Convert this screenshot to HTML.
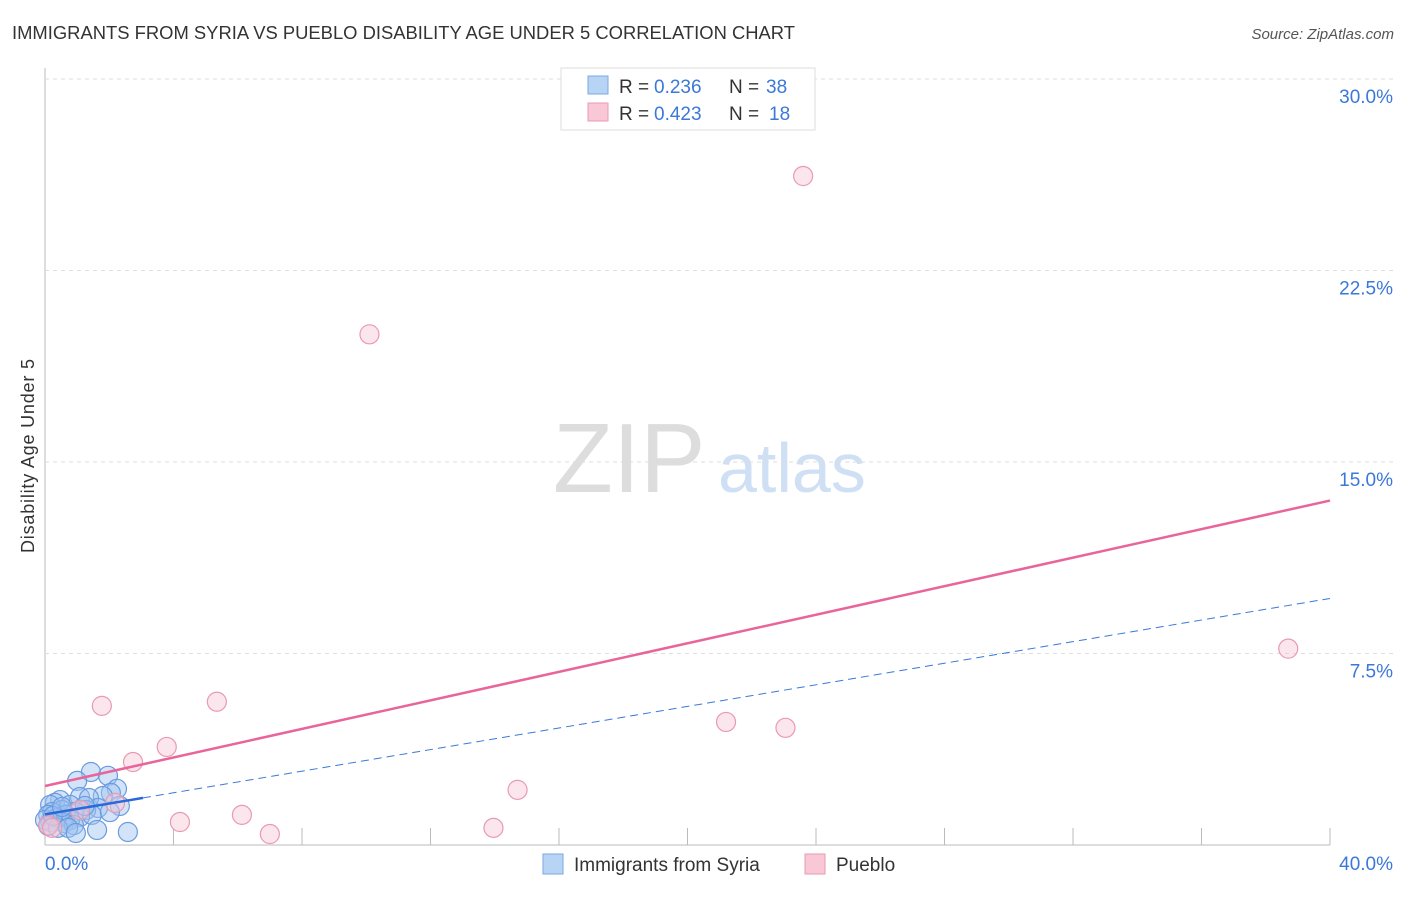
<!DOCTYPE html>
<html><head><meta charset="utf-8"><style>
body{margin:0;background:#fff;font-family:"Liberation Sans",sans-serif}
svg text{font-family:"Liberation Sans",sans-serif}
</style></head><body>
<svg id="c" width="1406" height="892">
<text x="12" y="39" font-size="18" fill="#333" textLength="783" lengthAdjust="spacingAndGlyphs">IMMIGRANTS FROM SYRIA VS PUEBLO DISABILITY AGE UNDER 5 CORRELATION CHART</text>
<text x="1394" y="39" font-size="15" fill="#555" text-anchor="end" font-style="italic">Source: ZipAtlas.com</text>
<text x="34" y="456" font-size="18" fill="#333" transform="rotate(-90 34 456)" text-anchor="middle" textLength="194">Disability Age Under 5</text>
<text x="553" y="492" font-size="98" fill="#ddd" font-family="Liberation Serif">ZIP</text>
<text x="718" y="492" font-size="70" fill="#cfe0f5">atlas</text>
<g id="grid"></g><g id="marks"></g>
<g font-size="19">
<rect x="561" y="68" width="254" height="62" fill="#fff" stroke="#ddd"/>
<rect x="588" y="76" width="20" height="18" fill="#b8d4f5" stroke="#7aa8e0"/>
<rect x="588" y="103" width="20" height="18" fill="#f9c8d6" stroke="#e99ab0"/>
<text x="619" y="93" fill="#333">R =</text><text x="654" y="93" fill="#3b78d8">0.236</text>
<text x="729" y="93" fill="#333">N =</text><text x="766" y="93" fill="#3b78d8">38</text>
<text x="619" y="120" fill="#333">R =</text><text x="654" y="120" fill="#3b78d8">0.423</text>
<text x="729" y="120" fill="#333">N =</text><text x="769" y="120" fill="#3b78d8">18</text>
</g>
<g>
<rect x="543" y="854" width="20" height="20" fill="#b8d4f5" stroke="#7aa8e0"/>
<text x="574" y="871" font-size="19" fill="#333">Immigrants from Syria</text>
<rect x="805" y="854" width="20" height="20" fill="#f9c8d6" stroke="#e99ab0"/>
<text x="836" y="871" font-size="19" fill="#333">Pueblo</text>
</g>
</svg>
<script>
const yTicks=[7.5,15,22.5,30];
const xTickLabels=["0.0%","40.0%"];
const pinkX=[1.77,5.35,3.79,2.74,4.2,6.13,7.0,10.1,13.96,14.71,21.2,23.05,23.6,38.7,2.18,0.1,0.22,1.09];
const pinkY=[5.45,5.61,3.84,3.25,0.9,1.18,0.43,20.0,0.67,2.16,4.82,4.59,26.2,7.69,1.65,0.78,0.67,1.37];
const blueX=[1.43,1.96,1.0,2.24,2.05,1.8,1.09,1.37,0.47,0.31,0.16,0.78,1.65,1.28,0.53,2.33,0.93,0.22,0.1,0.65,1.09,1.46,0.37,0.78,0.16,0,0.59,0.9,0.1,0.4,0.72,1.62,2.58,0.96,0.25,1.24,2.02,0.53];
const blueY=[2.86,2.71,2.51,2.2,2.04,1.92,1.88,1.84,1.76,1.65,1.57,1.57,1.45,1.37,1.37,1.53,1.29,1.29,1.18,1.18,1.1,1.18,1.06,0.98,0.9,0.98,0.86,0.78,0.75,0.67,0.67,0.59,0.51,0.47,1.14,1.53,1.29,1.49];
const pinkTrend=[2.31,13.49];
const blueTrend=[1.2,0.2114];
const NS="http://www.w3.org/2000/svg";
const sx=v=>45+v*(1285/40), sy=v=>845-v*(766/30);
function mk(t,a,p){const e=document.createElementNS(NS,t);for(const k in a)e.setAttribute(k,a[k]);p.appendChild(e);return e;}
const g=document.getElementById('grid'),m=document.getElementById('marks');
let ax=mk('line',{x1:45,y1:68,x2:45,y2:845,stroke:'#bbb'},g);

let bx=mk('line',{x1:45,y1:845,x2:1330,y2:845,stroke:'#bbb'},g);

for(let i=1;i<=10;i++){const l=mk('line',{x1:sx(i*4),y1:828,x2:sx(i*4),y2:845,stroke:'#bbb'},g);
}
yTicks.forEach(t=>{const l=mk('line',{x1:45,y1:sy(t),x2:1394,y2:sy(t),stroke:'#ddd','stroke-dasharray':'4,4'},g);

const tx=mk('text',{x:1393,y:sy(t)+24,'font-size':19,fill:'#3b78d8','text-anchor':'end'},g);tx.textContent=t.toFixed(1)+'%';
});
const x0=mk('text',{x:45,y:870,'font-size':19,fill:'#3b78d8'},g);x0.textContent=xTickLabels[0];

const x1=mk('text',{x:1393,y:870,'font-size':19,fill:'#3b78d8','text-anchor':'end'},g);x1.textContent=xTickLabels[1];

blueX.forEach((v,i)=>{const c=mk('circle',{cx:sx(v),cy:sy(blueY[i]),r:9.5,fill:'rgba(160,196,240,0.45)',stroke:'#6a9be0','stroke-width':1.2},m);
});
pinkX.forEach((v,i)=>{const c=mk('circle',{cx:sx(v),cy:sy(pinkY[i]),r:9.5,fill:'rgba(249,200,214,0.45)',stroke:'#e99ab0','stroke-width':1.2},m);
});
const pl=mk('line',{x1:sx(0),y1:sy(pinkTrend[0]),x2:sx(40),y2:sy(pinkTrend[1]),stroke:'#e8649a','stroke-width':2.5},m);

const bd=mk('line',{x1:sx(3.05),y1:sy(blueTrend[0]+blueTrend[1]*3.05),x2:sx(40),y2:sy(blueTrend[0]+blueTrend[1]*40),stroke:'#3b78d8','stroke-width':1,'stroke-dasharray':'8,5'},m);

const bs=mk('line',{x1:sx(0),y1:sy(blueTrend[0]),x2:sx(3.05),y2:sy(blueTrend[0]+blueTrend[1]*3.05),stroke:'#2a6ad8','stroke-width':2.5},m);

</script>
</body></html>
